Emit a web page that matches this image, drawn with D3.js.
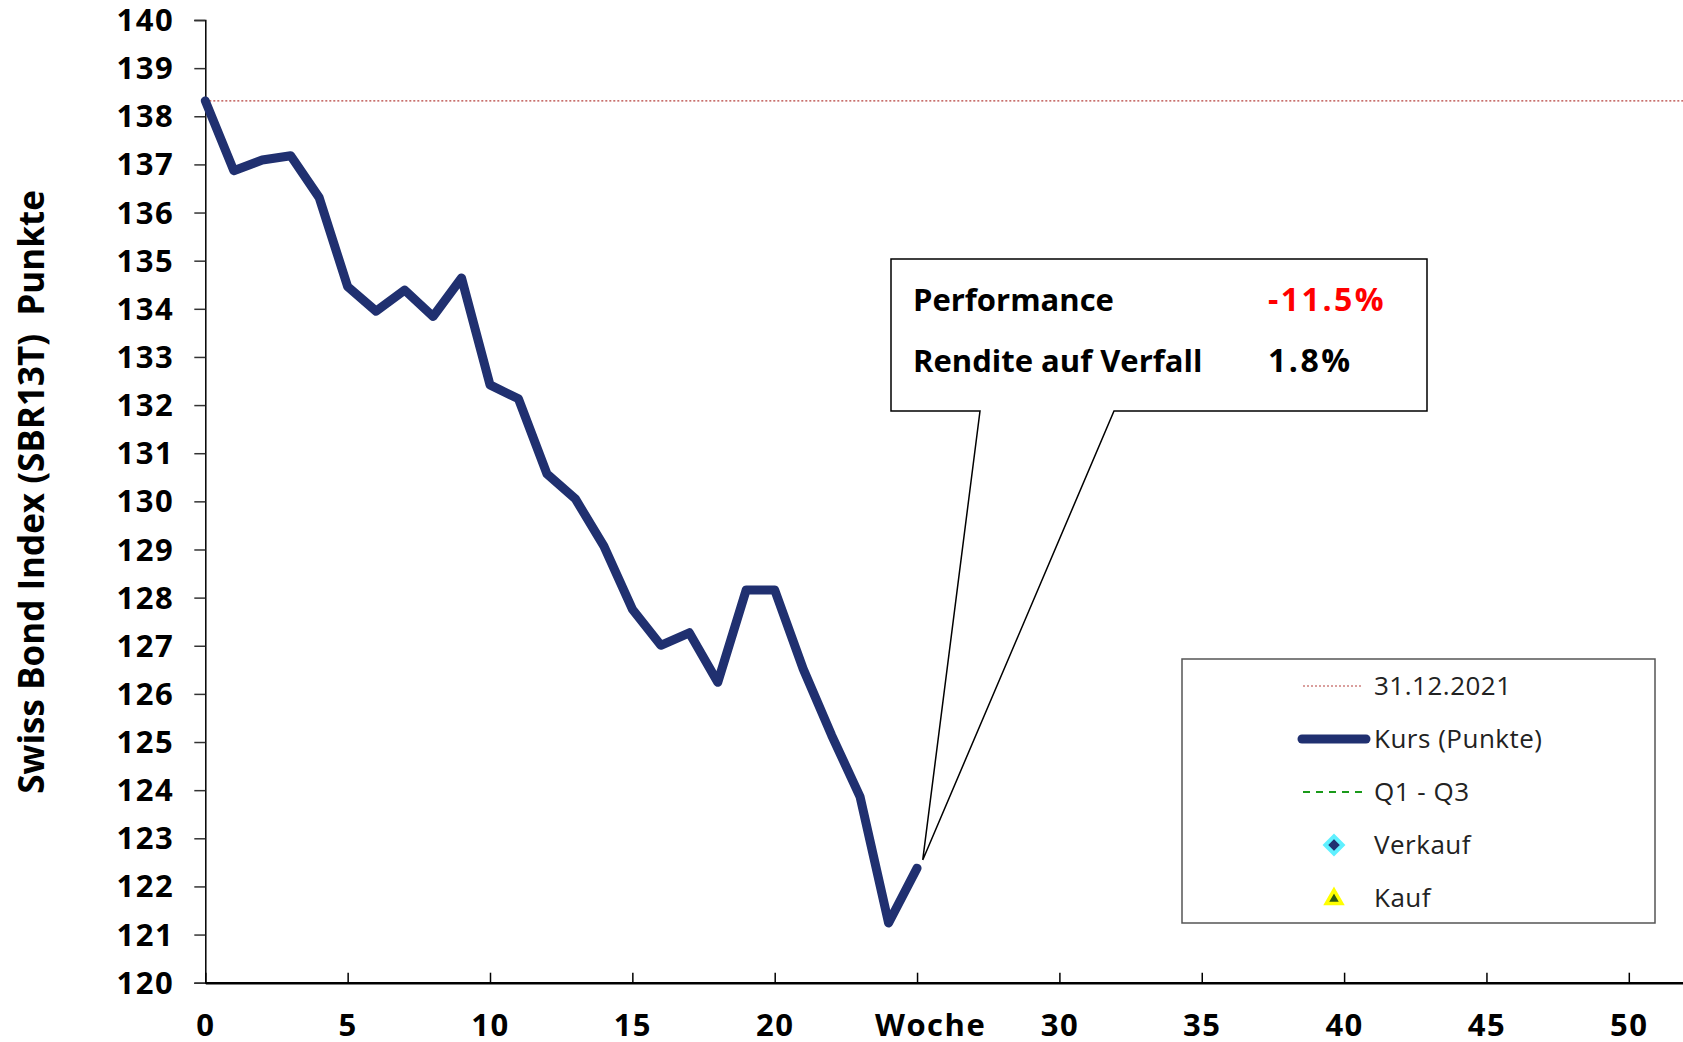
<!DOCTYPE html>
<html>
<head>
<meta charset="utf-8">
<script src="https://cdn.jsdelivr.net/npm/d3@7"></script>
<style>
  body { margin: 0; background: #fff; }
  svg { display: block; font-family: "Open Sans", "Noto Sans", sans-serif; }
</style>
</head>
<body>
<div id="chart"></div>
<script>
// weekly index values (Swiss Bond Index SBR13T)
var weeks = [0, 1, 2, 3, 4, 5, 6, 7, 8, 9, 10, 11, 12, 13, 14, 15, 16, 17, 18, 19, 20, 21, 22, 23, 24, 25];
var kurs = [138.32, 136.87, 137.09, 137.18, 136.31, 134.46, 133.95, 134.39, 133.84, 134.64,
            132.42, 132.13, 130.57, 130.05, 129.07, 127.76, 127.01, 127.27, 126.24, 128.16,
            128.16, 126.52, 125.14, 123.86, 121.24, 122.38];
var startValue = 138.32; // 31.12.2021
var yTicks = [120, 121, 122, 123, 124, 125, 126, 127, 128, 129, 130, 131, 132, 133, 134, 135, 136, 137, 138, 139, 140];
var xTicks = [0, 5, 10, 15, 20, 25, 30, 35, 40, 45, 50];
var xTickLabels = ["0", "5", "10", "15", "20", "Woche", "30", "35", "40", "45", "50"];
var infoLabels = ["Performance", "Rendite auf Verfall"];
var infoValues = ["-11.5%", "1.8%"];
var infoColors = ["#ff0000", "#000000"];
var legendLabels = ["31.12.2021", "Kurs (Punkte)", "Q1 - Q3", "Verkauf", "Kauf"];

function init(){
    var w = 1683;
    var h = 1042;
    var navy = "#203070";

    var xScale = d3.scaleLinear()
                    .domain([0, 52])
                    .range([205.3, 205.3 + 52 * 28.47]);

    var yScale = d3.scaleLinear()
                    .domain([120, 140])
                    .range([982.7, 20]);

    var svg = d3.select("#chart")
                .append("svg")
                .attr("width", w)
                .attr("height", h);

    // y axis
    var yAxis = svg.append("g")
        .attr("transform", "translate(" + xScale(0) + ",0)")
        .call(d3.axisLeft(yScale).tickValues(yTicks).tickSize(11).tickPadding(20).tickFormat(d3.format("d")));
    yAxis.select(".domain").attr("stroke", "#000").attr("stroke-width", 1.5);
    yAxis.selectAll(".tick line").attr("stroke", "#333").attr("stroke-width", 1.5);
    yAxis.selectAll(".tick text")
        .attr("font-size", "31px")
        .attr("font-weight", "bold")
        .attr("letter-spacing", "1.5px")
        .attr("dy", "0.34em")
        .attr("fill", "#000")
        .attr("font-family", "'Open Sans', 'Noto Sans', sans-serif");

    // x axis, ticks pointing inward
    var xAxis = svg.append("g")
        .attr("transform", "translate(0," + yScale(120) + ")")
        .call(d3.axisBottom(xScale).tickValues(xTicks).tickSizeInner(-10).tickSizeOuter(0)
            .tickFormat(function(d, i){ return xTickLabels[i]; }));
    xAxis.select(".domain").attr("stroke", "#000").attr("stroke-width", 2.5);
    xAxis.selectAll(".tick line").attr("stroke", "#000").attr("stroke-width", 1.5);
    xAxis.selectAll(".tick text")
        .attr("y", 53)
        .attr("dy", "0")
        .attr("dx", function(d){ return d === 25 ? 13 : 0; })
        .attr("font-size", "31px")
        .attr("font-weight", "bold")
        .attr("letter-spacing", "1.5px")
        .attr("fill", "#000")
        .attr("font-family", "'Open Sans', 'Noto Sans', sans-serif");

    // y axis title
    svg.append("text")
        .attr("transform", "translate(44," + 492 + ") rotate(-90)")
        .attr("text-anchor", "middle")
        .attr("font-size", "35px")
        .attr("font-weight", "bold")
        .attr("xml:space", "preserve")
        .text("Swiss Bond Index (SBR13T)  Punkte");

    // reference line at start value
    svg.append("line")
        .attr("x1", xScale(0))
        .attr("x2", w)
        .attr("y1", yScale(startValue))
        .attr("y2", yScale(startValue))
        .attr("stroke", "#b5403d")
        .attr("stroke-width", 1.2)
        .attr("stroke-dasharray", "2,2");

    // price line
    var line = d3.line()
        .x(function(d, i){ return xScale(weeks[i]); })
        .y(function(d){ return yScale(d); });

    svg.append("path")
        .datum(kurs)
        .attr("d", line)
        .attr("fill", "none")
        .attr("stroke", navy)
        .attr("stroke-width", 9)
        .attr("stroke-linejoin", "round")
        .attr("stroke-linecap", "round");

    // callout box
    var tipX = xScale(25.2), tipY = yScale(122.55);
    var bx0 = 891, bx1 = 1427, by0 = 259, by1 = 411;
    var callout = d3.path();
    callout.moveTo(bx0, by0);
    callout.lineTo(bx1, by0);
    callout.lineTo(bx1, by1);
    callout.lineTo(1114, by1);
    callout.lineTo(tipX, tipY);
    callout.lineTo(980, by1);
    callout.lineTo(bx0, by1);
    callout.closePath();
    svg.append("path")
        .attr("d", callout.toString())
        .attr("fill", "#fff")
        .attr("stroke", "#000")
        .attr("stroke-width", 1.5);

    svg.selectAll(".infoLabel")
        .data(infoLabels)
        .enter()
        .append("text")
        .attr("class", "infoLabel")
        .attr("x", 913)
        .attr("y", function(d, i){ return 311 + i * 61; })
        .attr("font-size", "31px")
        .attr("font-weight", "bold")
        .text(function(d){ return d; });

    svg.selectAll(".infoValue")
        .data(infoValues)
        .enter()
        .append("text")
        .attr("class", "infoValue")
        .attr("x", 1268)
        .attr("y", function(d, i){ return 311 + i * 61; })
        .attr("font-size", "32px")
        .attr("font-weight", "bold")
        .attr("letter-spacing", "2.5px")
        .attr("fill", function(d, i){ return infoColors[i]; })
        .text(function(d){ return d; });

    // legend
    var legend = svg.append("g");
    legend.append("rect")
        .attr("x", 1182)
        .attr("y", 659)
        .attr("width", 473)
        .attr("height", 264)
        .attr("fill", "#fff")
        .attr("stroke", "#555")
        .attr("stroke-width", 1.5);

    var rowY = function(i){ return 686 + i * 53; };

    legend.append("line")
        .attr("x1", 1303).attr("x2", 1363)
        .attr("y1", rowY(0)).attr("y2", rowY(0))
        .attr("stroke", "#b5403d").attr("stroke-width", 1.2)
        .attr("stroke-dasharray", "2,2");
    legend.append("line")
        .attr("x1", 1302).attr("x2", 1366)
        .attr("y1", rowY(1)).attr("y2", rowY(1))
        .attr("stroke", navy).attr("stroke-width", 9)
        .attr("stroke-linecap", "round");
    legend.append("line")
        .attr("x1", 1303).attr("x2", 1363)
        .attr("y1", rowY(2)).attr("y2", rowY(2))
        .attr("stroke", "#1a9a1a").attr("stroke-width", 2)
        .attr("stroke-dasharray", "7,6");
    legend.append("path")
        .attr("d", d3.symbol().type(d3.symbolDiamond2).size(190)())
        .attr("transform", "translate(1334," + rowY(3) + ")")
        .attr("fill", "#203070")
        .attr("stroke", "#5ff0ff")
        .attr("stroke-width", 4);
    legend.append("path")
        .attr("d", d3.symbol().type(d3.symbolTriangle2).size(170)())
        .attr("transform", "translate(1334," + (rowY(4) + 1) + ")")
        .attr("fill", "#2f5a10")
        .attr("stroke", "#ffff00")
        .attr("stroke-width", 3.5);

    legend.selectAll(".legLabel")
        .data(legendLabels)
        .enter()
        .append("text")
        .attr("class", "legLabel")
        .attr("x", 1374)
        .attr("y", function(d, i){ return rowY(i); })
        .attr("dy", "0.35em")
        .attr("font-size", "26px")
        .attr("letter-spacing", "0.5px")
        .attr("fill", "#222")
        .text(function(d){ return d; });
}

window.onload = init;
</script>
</body>
</html>
